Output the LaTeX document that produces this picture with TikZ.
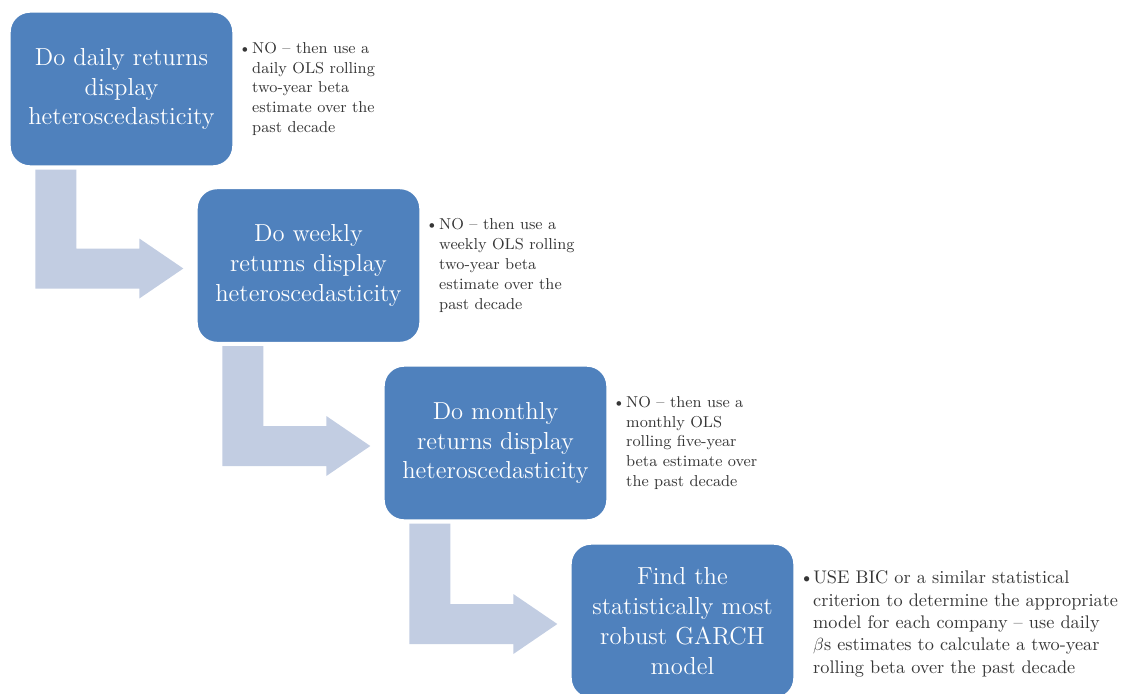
\documentclass[tikz,border=0pt]{standalone}
\usepackage{amsmath,amssymb}
\usepackage{xcolor}
\usepackage{tikz}
\usetikzlibrary{calc,positioning}
\definecolor{boxblue}{HTML}{4F81BD}
\definecolor{bendfill}{HTML}{C2CDE2}
\definecolor{notetext}{HTML}{363636}
\tikzset{
  qbox/.style={rectangle, rounded corners=0.4cm, fill=boxblue, draw=white, line width=0.8pt,
    minimum width=4.46cm, minimum height=3.08cm, text=white, align=center,
    font=\fontsize{14}{17}\selectfont},
  note/.style={inner sep=0pt, text=notetext, font=\fontsize{9}{11.3}\selectfont},
  bignote/.style={note, font=\fontsize{10.4}{12.75}\selectfont},
  bendarrow/.style={fill=bendfill}
}
\newcommand{\Bul}[1]{\makebox[7.8pt][l]{\textbullet}\begin{tabular}[t]{@{}l@{}}#1\end{tabular}}
\newcommand{\BendArrow}[2]{% from box, to box
  \coordinate (ta) at ($(#1.south west)+(26,3)$);
  \coordinate (tb) at ($(#2.west)+(-13,3)$);
  \fill[bendarrow] (ta) -- ++(41,0) |- ($(tb)+(-44,-20)$) -- ++(0,-10) -- (tb)
    -- ++(-44,30) -- ++(0,-10) -| (ta) -- cycle;
}

\begin{document}
\begin{tikzpicture}[x=0.02cm,y=-0.02cm]
  \clip (0,0) rectangle (1135,693);
  % question boxes
  \node[qbox] (box1) at (121.5,89) {Do daily returns\\display\\heteroscedasticity};
  \node[qbox] (box2) at (308.5,265.5) {Do weekly\\returns display\\heteroscedasticity};
  \node[qbox] (box3) at (495.5,443) {Do monthly\\returns display\\heteroscedasticity};
  \node[qbox] (box4) at (682.5,621) {Find the\\statistically most\\robust GARCH\\model};
  % notes
  \node[note, right=0.09cm of box1] (note1) {\Bul{NO -- then use a\\daily OLS rolling\\two-year beta\\estimate over the\\past decade}};
  \node[note, right=0.09cm of box2] (note2) {\Bul{NO -- then use a\\weekly OLS rolling\\two-year beta\\estimate over the\\past decade}};
  \node[note, right=0.09cm of box3] (note3) {\Bul{NO -- then use a\\monthly OLS\\rolling five-year\\beta estimate over\\the past decade}};
  \node[bignote, right=0.09cm of box4, yshift=-0.06cm] (note4) {\Bul{USE BIC or a similar statistical\\criterion to determine the appropriate\\model for each company -- use daily\\$\beta$s estimates to calculate a two-year\\rolling beta over the past decade}};
  % bent arrows
  \BendArrow{box1}{box2}
  \BendArrow{box2}{box3}
  \BendArrow{box3}{box4}
\end{tikzpicture}
\end{document}
